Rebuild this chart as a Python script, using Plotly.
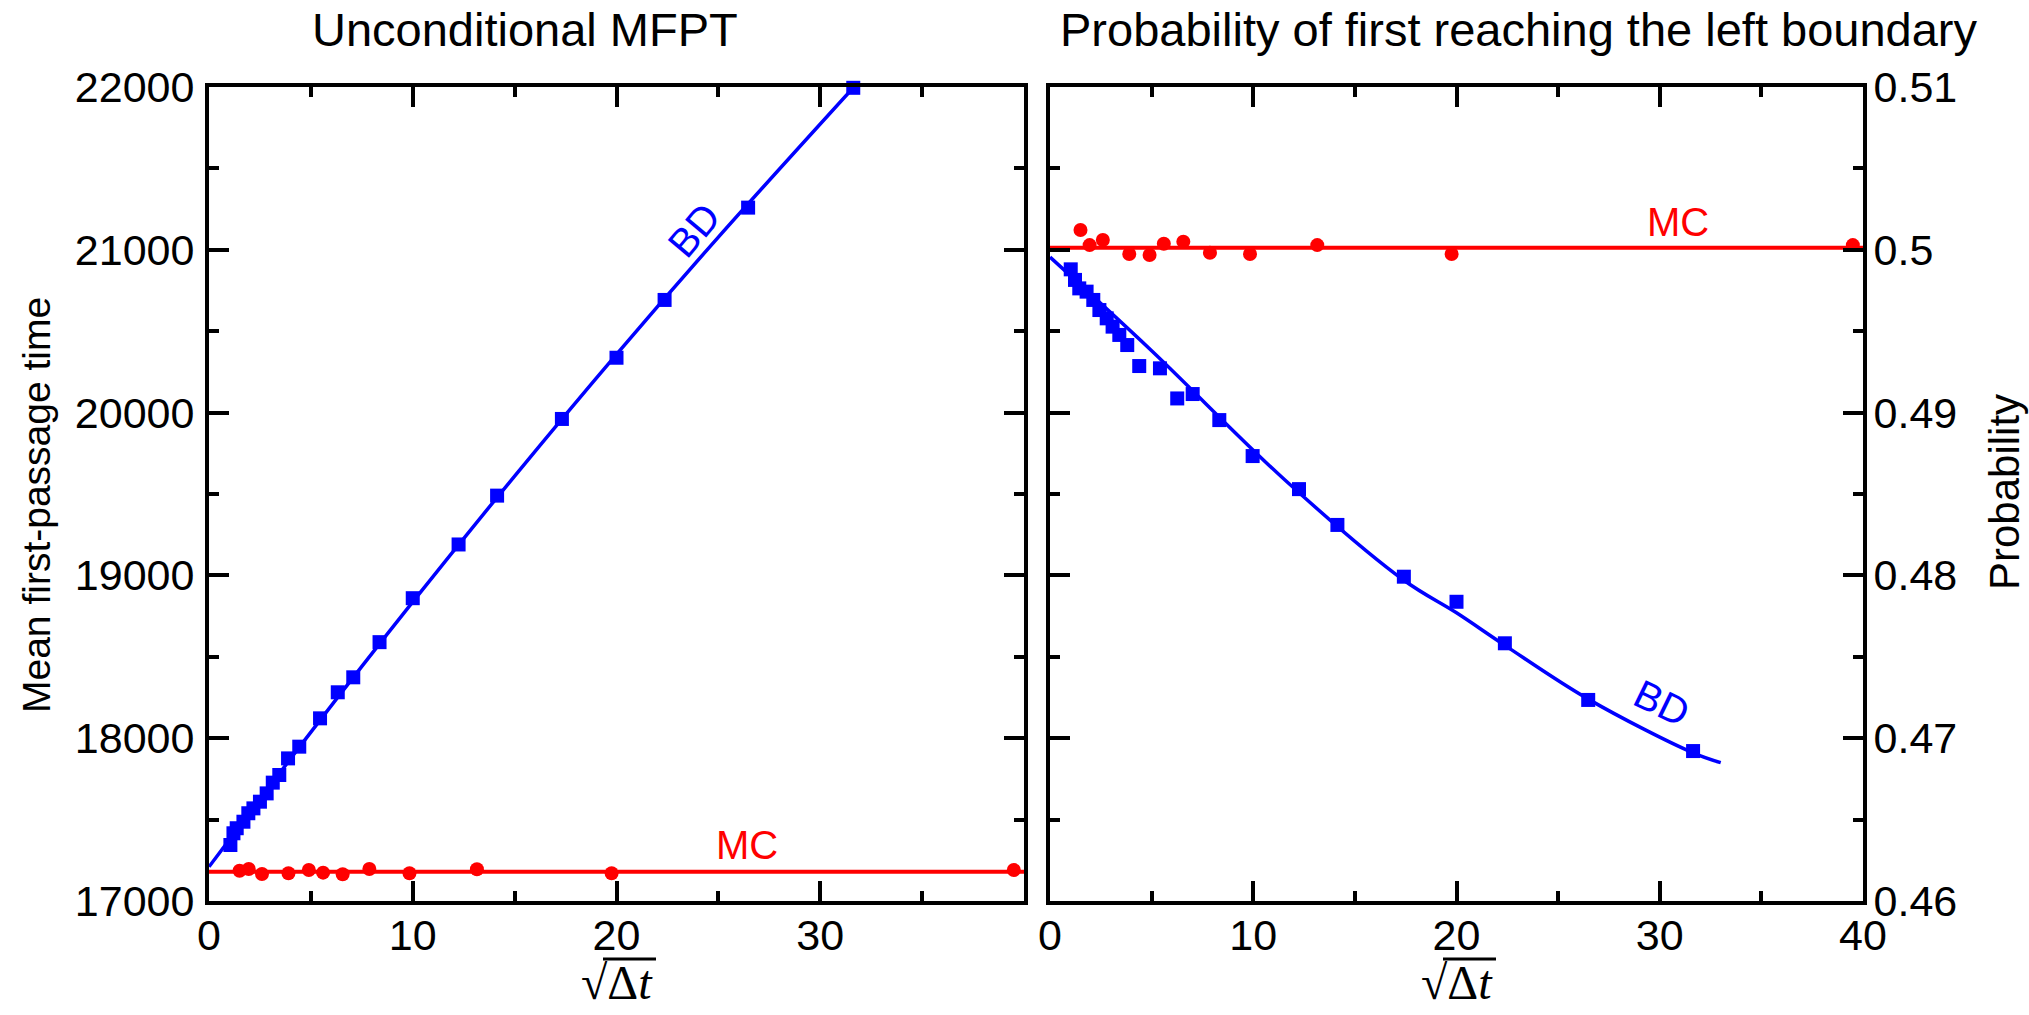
import plotly.graph_objects as go

# ---------------- data ----------------
# Left panel: unconditional MFPT
bd_mfpt_x = [1.05, 1.2, 1.36, 1.69, 1.93, 2.18, 2.5, 2.83, 3.13, 3.45, 3.88, 4.43,
             5.45, 6.32, 7.08, 8.37, 10.0, 12.25, 14.14, 17.32, 20.0, 22.36, 26.46, 31.62]
bd_mfpt_y = [17344, 17416, 17447, 17487, 17539, 17569, 17610, 17661, 17727, 17774, 17876, 17948,
             18122, 18282, 18374, 18590, 18860, 19190, 19490, 19961, 20337, 20692, 21259, 21995]
bd_mfpt_fit_x = [0, 5, 10, 15, 20, 25, 31.65]
bd_mfpt_fit_y = [17210, 18037, 18837, 19610, 20358, 21078, 22000]

mc_x = [1.5, 1.95, 2.6, 3.9, 4.9, 5.6, 6.56, 7.87, 9.84, 13.15, 19.76, 39.5]
mc_mfpt_y = [17186, 17197, 17166, 17170, 17190, 17174, 17164, 17197, 17170, 17195, 17170, 17190]
mc_mfpt_fit_x = [0, 40]
mc_mfpt_fit_y = [17180, 17180]

# Right panel: probability of first reaching the left boundary
bd_prob_x = [1.02, 1.23, 1.44, 1.80, 2.13, 2.43, 2.79, 3.08, 3.41, 3.80, 4.39, 5.41,
             6.26, 7.02, 8.33, 9.97, 12.25, 14.14, 17.41, 20.0, 22.38, 26.48, 31.64]
bd_prob_y = [0.49880, 0.49815, 0.49763, 0.49743, 0.49692, 0.49630, 0.49579, 0.49528, 0.49477,
             0.49415, 0.49286, 0.49272, 0.49087, 0.49114, 0.48954, 0.48733, 0.48530, 0.48310,
             0.47992, 0.47838, 0.47583, 0.47235, 0.46921]
bd_prob_fit_x = [0, 5, 11.56, 17.41, 20, 22.38, 26.48, 31.64, 33.0]
bd_prob_fit_y = [0.49955, 0.49380, 0.48586, 0.47970, 0.47770, 0.47570, 0.47240, 0.46910, 0.46850]

mc_prob_y = [0.50122, 0.50029, 0.50060, 0.49974, 0.49968, 0.50037, 0.50050, 0.49982, 0.49974,
             0.50029, 0.49974, 0.50029]
mc_prob_fit_x = [0, 40]
mc_prob_fit_y = [0.50012, 0.50012]

left_y_ticks = [17000, 18000, 19000, 20000, 21000, 22000]
left_y_text = ["17000", "18000", "19000", "20000", "21000", "22000"]
right_y_ticks = [0.46, 0.47, 0.48, 0.49, 0.50, 0.51]
right_y_text = ["0.46", "0.47", "0.48", "0.49", "0.5", "0.51"]
left_x_ticks = [0, 10, 20, 30]
right_x_ticks = [0, 10, 20, 30, 40]

BLUE = "#0000ff"
RED = "#ff0000"
SANS = "Liberation Sans, Arial, Helvetica, sans-serif"
SERIF = "Liberation Serif, Times New Roman, serif"

# layout geometry (pixels)
W, H = 2029, 1015
ML, MR, MT, MB = 209, 166, 87, 114
PW = W - ML - MR
PH = H - MT - MB


def px(xp):
    return (xp - ML) / PW


def py(yp):
    return (H - MB - yp) / PH


fig = go.Figure()

# left panel
fig.add_trace(go.Scatter(x=bd_mfpt_fit_x, y=bd_mfpt_fit_y, mode="lines", line=dict(color=BLUE, width=3.5, shape="spline"),
                         xaxis="x", yaxis="y", showlegend=False, cliponaxis=False))
fig.add_trace(go.Scatter(x=mc_mfpt_fit_x, y=mc_mfpt_fit_y, mode="lines", line=dict(color=RED, width=4),
                         xaxis="x", yaxis="y", showlegend=False, cliponaxis=False))
fig.add_trace(go.Scatter(x=bd_mfpt_x, y=bd_mfpt_y, mode="markers", marker=dict(symbol="square", size=14, color=BLUE),
                         xaxis="x", yaxis="y", showlegend=False, cliponaxis=False))
fig.add_trace(go.Scatter(x=mc_x, y=mc_mfpt_y, mode="markers", marker=dict(symbol="circle", size=14, color=RED),
                         xaxis="x", yaxis="y", showlegend=False, cliponaxis=False))

# right panel
fig.add_trace(go.Scatter(x=bd_prob_fit_x, y=bd_prob_fit_y, mode="lines", line=dict(color=BLUE, width=3.5, shape="spline"),
                         xaxis="x2", yaxis="y2", showlegend=False, cliponaxis=False))
fig.add_trace(go.Scatter(x=mc_prob_fit_x, y=mc_prob_fit_y, mode="lines", line=dict(color=RED, width=4),
                         xaxis="x2", yaxis="y2", showlegend=False, cliponaxis=False))
fig.add_trace(go.Scatter(x=bd_prob_x, y=bd_prob_y, mode="markers", marker=dict(symbol="square", size=14, color=BLUE),
                         xaxis="x2", yaxis="y2", showlegend=False, cliponaxis=False))
fig.add_trace(go.Scatter(x=mc_x, y=mc_prob_y, mode="markers", marker=dict(symbol="circle", size=14, color=RED),
                         xaxis="x2", yaxis="y2", showlegend=False, cliponaxis=False))

axis_common = dict(showline=True, linewidth=4, linecolor="black", mirror="allticks", ticks="inside",
                   ticklen=20, tickwidth=3.5, tickcolor="black", showgrid=False, zeroline=False,
                   tickfont=dict(family=SANS, size=43, color="black"))
minor_common = dict(ticklen=10, tickwidth=3.5, ticks="inside", tickcolor="black")

fig.update_layout(
    width=W, height=H,
    margin=dict(l=ML, r=MR, t=MT, b=MB),
    paper_bgcolor="white", plot_bgcolor="white",
    xaxis=dict(domain=[0, px(1024)], range=[0, 40], tickmode="array", tickvals=left_x_ticks,
               minor=dict(dtick=5, **minor_common), anchor="y", ticklabelstandoff=-7, **axis_common),
    yaxis=dict(domain=[0, 1], range=[17000, 22000], tickmode="array", tickvals=left_y_ticks, ticktext=left_y_text,
               minor=dict(dtick=500, **minor_common), anchor="x", ticklabelstandoff=2, **axis_common),
    xaxis2=dict(domain=[px(1050), 1.0], range=[0, 40], tickmode="array", tickvals=right_x_ticks,
                minor=dict(dtick=5, **minor_common), anchor="y2", ticklabelstandoff=-7, **axis_common),
    yaxis2=dict(domain=[0, 1], range=[0.46, 0.51], tickmode="array", tickvals=right_y_ticks, ticktext=right_y_text,
                minor=dict(dtick=0.005, **minor_common), anchor="x2", side="right", ticklabelstandoff=-2,
                **axis_common),
)

ann = []
# titles
ann.append(dict(text="Unconditional MFPT", xref="paper", yref="paper", x=px(525), y=py(29),
                xanchor="center", yanchor="middle", showarrow=False, font=dict(family=SANS, size=47, color="black")))
ann.append(dict(text="Probability of first reaching the left boundary", xref="paper", yref="paper",
                x=px(1519), y=py(29),
                xanchor="center", yanchor="middle", showarrow=False, font=dict(family=SANS, size=47, color="black")))
# y titles
ann.append(dict(text="Mean first-passage time", xref="paper", yref="paper", x=px(36), y=py(505), textangle=-90,
                xanchor="center", yanchor="middle", showarrow=False, font=dict(family=SANS, size=39, color="black")))
ann.append(dict(text="Probability", xref="paper", yref="paper", x=px(2004), y=py(492), textangle=-90,
                xanchor="center", yanchor="middle", showarrow=False, font=dict(family=SANS, size=42, color="black")))
# x titles: radical + delta t, with vinculum drawn as a shape
shapes = []
for xc in (617, 1457):
    ann.append(dict(text="√Δ<i>t</i>", xref="paper", yref="paper", x=px(xc), y=py(982),
                    xanchor="center", yanchor="middle", showarrow=False, font=dict(family=SERIF, size=48, color="black")))
    shapes.append(dict(type="line", xref="paper", yref="paper", x0=px(xc - 14), x1=px(xc + 39),
                       y0=py(959), y1=py(959), line=dict(color="black", width=3)))
# series labels
ann.append(dict(text="MC", xref="x", yref="y", x=26.4, y=17344, showarrow=False,
                font=dict(family=SANS, size=40, color=RED)))
ann.append(dict(text="BD", xref="x", yref="y", x=23.8, y=21122, textangle=-50, showarrow=False,
                font=dict(family=SANS, size=40, color=BLUE)))
ann.append(dict(text="MC", xref="x2", yref="y2", x=30.9, y=0.5017, showarrow=False,
                font=dict(family=SANS, size=40, color=RED)))
ann.append(dict(text="BD", xref="x2", yref="y2", x=30.1, y=0.47216, textangle=26, showarrow=False,
                font=dict(family=SANS, size=40, color=BLUE)))
fig.update_layout(annotations=ann, shapes=shapes)

fig.write_html("out.html")
